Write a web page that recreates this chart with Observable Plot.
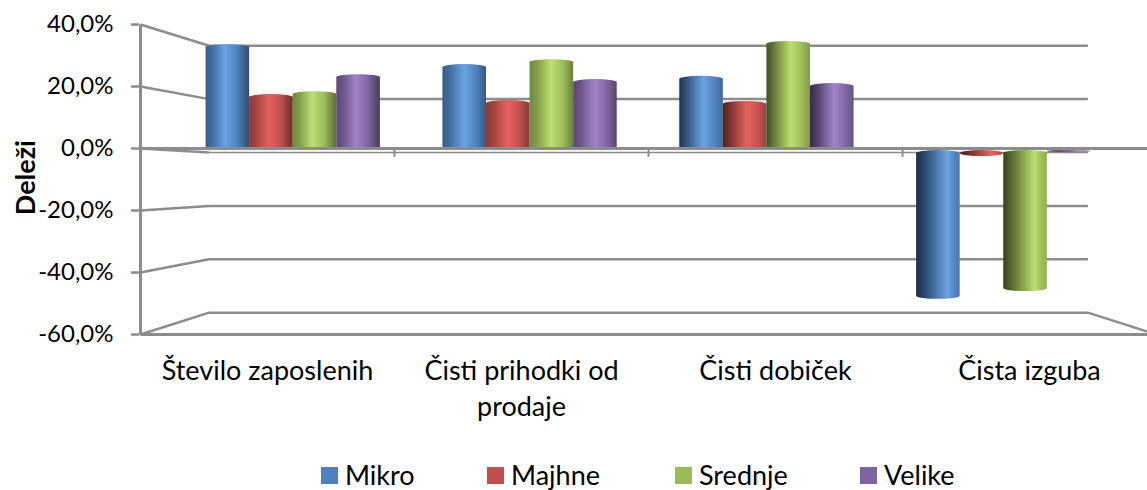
<!DOCTYPE html>
<html>
<head>
<meta charset="utf-8">
<script src="https://cdn.jsdelivr.net/npm/d3@7"></script>
<script src="https://cdn.jsdelivr.net/npm/@observablehq/plot@0.6"></script>
<style>
  html, body { margin: 0; padding: 0; background: #fff; }
  body { width: 1147px; height: 490px; overflow: hidden; font-family: Lato, "Open Sans", sans-serif; }
  #legend { display: flex; padding-left: 321px; height: 30px; font-size: 27px; line-height: 30px; color: #000; }
  #legend .item { display: flex; align-items: center; }
  #legend .sw { width: 17px; height: 17px; margin-right: 7px; }
</style>
</head>
<body>
<div id="chart"></div>
<div id="legend"></div>
<script>
const categories = ["Število zaposlenih", "Čisti prihodki od\nprodaje", "Čisti dobiček", "Čista izguba"];
const seriesNames = ["Mikro", "Majhne", "Srednje", "Velike"];
const mikro   = [36.7, 29.8, 25.7, -51.6];
const majhne  = [19.4, 17.3, 17.0, -2.1];
const srednje = [20.4, 31.5, 37.8, -48.9];
const velike  = [26.3, 24.6, 23.2, -0.7];
const seriesValues = [mikro, majhne, srednje, velike];
const seriesColors = ["#4f81bd", "#c0504d", "#9bbb59", "#8064a2"];
const highlights = ["#6ba3e4", "#e4625f", "#bcde72", "#a085c8"];
const yTicks = [-60, -40, -20, 0, 20, 40];

// Excel-style 3D depth: d = 0 is the front plane, d = 1 the back wall
const px = (i, d) => 1.5 + (i - 1.5) * (1 - 0.135 * d);
const py = (v, d) => v * (1 - 0.139 * d) - 1.29 * d;
const slot = 0.184;
const left = -0.5, right = 3.5;

const bars = categories.flatMap((c, g) => seriesNames.map((s, k) => ({
  category: c, series: s, g, k, value: seriesValues[k][g]
})));

// cylinder shading differs per category because of the perspective
const shade = [
  {l: 0.72, r: 0.58, h: 0.45},
  {l: 0.72, r: 0.68, h: 0.5},
  {l: 0.42, r: 0.82, h: 0.55},
  {l: 0.34, r: 0.95, h: 0.72}
];
function gradients() {
  const defs = d3.create("svg:defs");
  shade.forEach((sh, g) => seriesColors.forEach((c, k) => {
    const base = d3.rgb(c), hi = highlights[k];
    const mul = f => d3.rgb(base.r * f, base.g * f, base.b * f).formatHex();
    const grad = defs.append("linearGradient").attr("id", `g${g}s${k}`);
    [[0, mul(sh.l)], [sh.h * 0.35, mul(sh.l + (1 - sh.l) * 0.45)], [sh.h, hi],
     [Math.min(sh.h + 0.28, 0.9), mul(1)], [1, mul(sh.r)]].forEach(([o, col]) =>
      grad.append("stop").attr("offset", o).attr("stop-color", col));
  }));
  return defs.node();
}

const gridColor = "#8c8c8c";
const fmt = v => v.toFixed(1).replace(".", ",") + "%";

const plot = Plot.plot({
  width: 1147,
  height: 460,
  marginLeft: 139,
  marginRight: 0,
  marginTop: 24,
  marginBottom: 126,
  style: {fontFamily: "Lato, 'Open Sans', sans-serif", background: "#fff", color: "#000", overflow: "hidden"},
  x: {type: "linear", domain: [(139 - 267) / 254, (1147 - 267) / 254], axis: null},
  y: {domain: [-60, 40], axis: null},
  marks: [
    gradients,
    // back wall gridlines
    Plot.link(yTicks, {x1: px(left, 1), x2: px(right, 1), y1: v => py(v, 1), y2: v => py(v, 1),
      stroke: gridColor, strokeWidth: v => v === 0 ? 1.5 : 2.5}),
    // receding gridlines on the left side wall
    Plot.link(yTicks, {x1: left, x2: px(left, 1), y1: v => v, y2: v => py(v, 1),
      stroke: gridColor, strokeWidth: 2.5}),
    // floor edge on the right
    Plot.link([-60], {x1: px(right, 1), x2: right, y1: v => py(v, 1), y2: v => v,
      stroke: gridColor, strokeWidth: 2.5}),
    // cylinders
    Plot.rect(bars, {
      x1: d => px(d.g + (d.k - 2) * slot, 0.5),
      x2: d => px(d.g + (d.k - 1) * slot, 0.5),
      y1: d => py(0, 0.5),
      y2: d => py(d.value, 0.5),
      fill: {value: d => `url(#g${d.g}s${d.k})`, scale: null},
      rx: 22, ry: 3
    }),
    // front plane: zero line, bottom line, vertical axis
    Plot.link([0, -60], {x1: left, x2: right, y1: v => v, y2: v => v, stroke: gridColor, strokeWidth: 3}),
    Plot.link([0], {x1: left, x2: left, y1: -60, y2: 40, stroke: gridColor, strokeWidth: 3}),
    // category separators
    Plot.link(categories.slice(0, 3), {x1: (d, i) => i + 0.5, x2: (d, i) => i + 0.5, y1: 0, y2: -2.7,
      stroke: gridColor, strokeWidth: 2}),
    Plot.axisY(yTicks, {
      anchor: "left", tickSize: 8, tickPadding: 18, tickFormat: fmt, label: null,
      stroke: gridColor, strokeWidth: 2.5, fill: "#000", fontSize: 24
    }),
    Plot.text(["Deleži"], {
      x: (139 - 267) / 254, y: -9.4, dx: -113, rotate: -90, fontSize: 27, fontWeight: "bold", fill: "#000"
    }),
    Plot.text(categories, {
      x: (d, i) => i, y: -60, dy: 21, lineAnchor: "top", lineHeight: 1.3,
      fontSize: 27, fill: "#000", textAnchor: "middle"
    })
  ]
});
document.getElementById("chart").appendChild(plot);
plot.style.display = "block";

const itemWidths = [166, 188, 185, 100];
const legend = d3.select("#legend");
seriesNames.forEach((s, k) => {
  const it = legend.append("div").attr("class", "item").style("width", itemWidths[k] + "px");
  it.append("div").attr("class", "sw").style("background", seriesColors[k]);
  it.append("span").text(s);
});
</script>
</body>
</html>
